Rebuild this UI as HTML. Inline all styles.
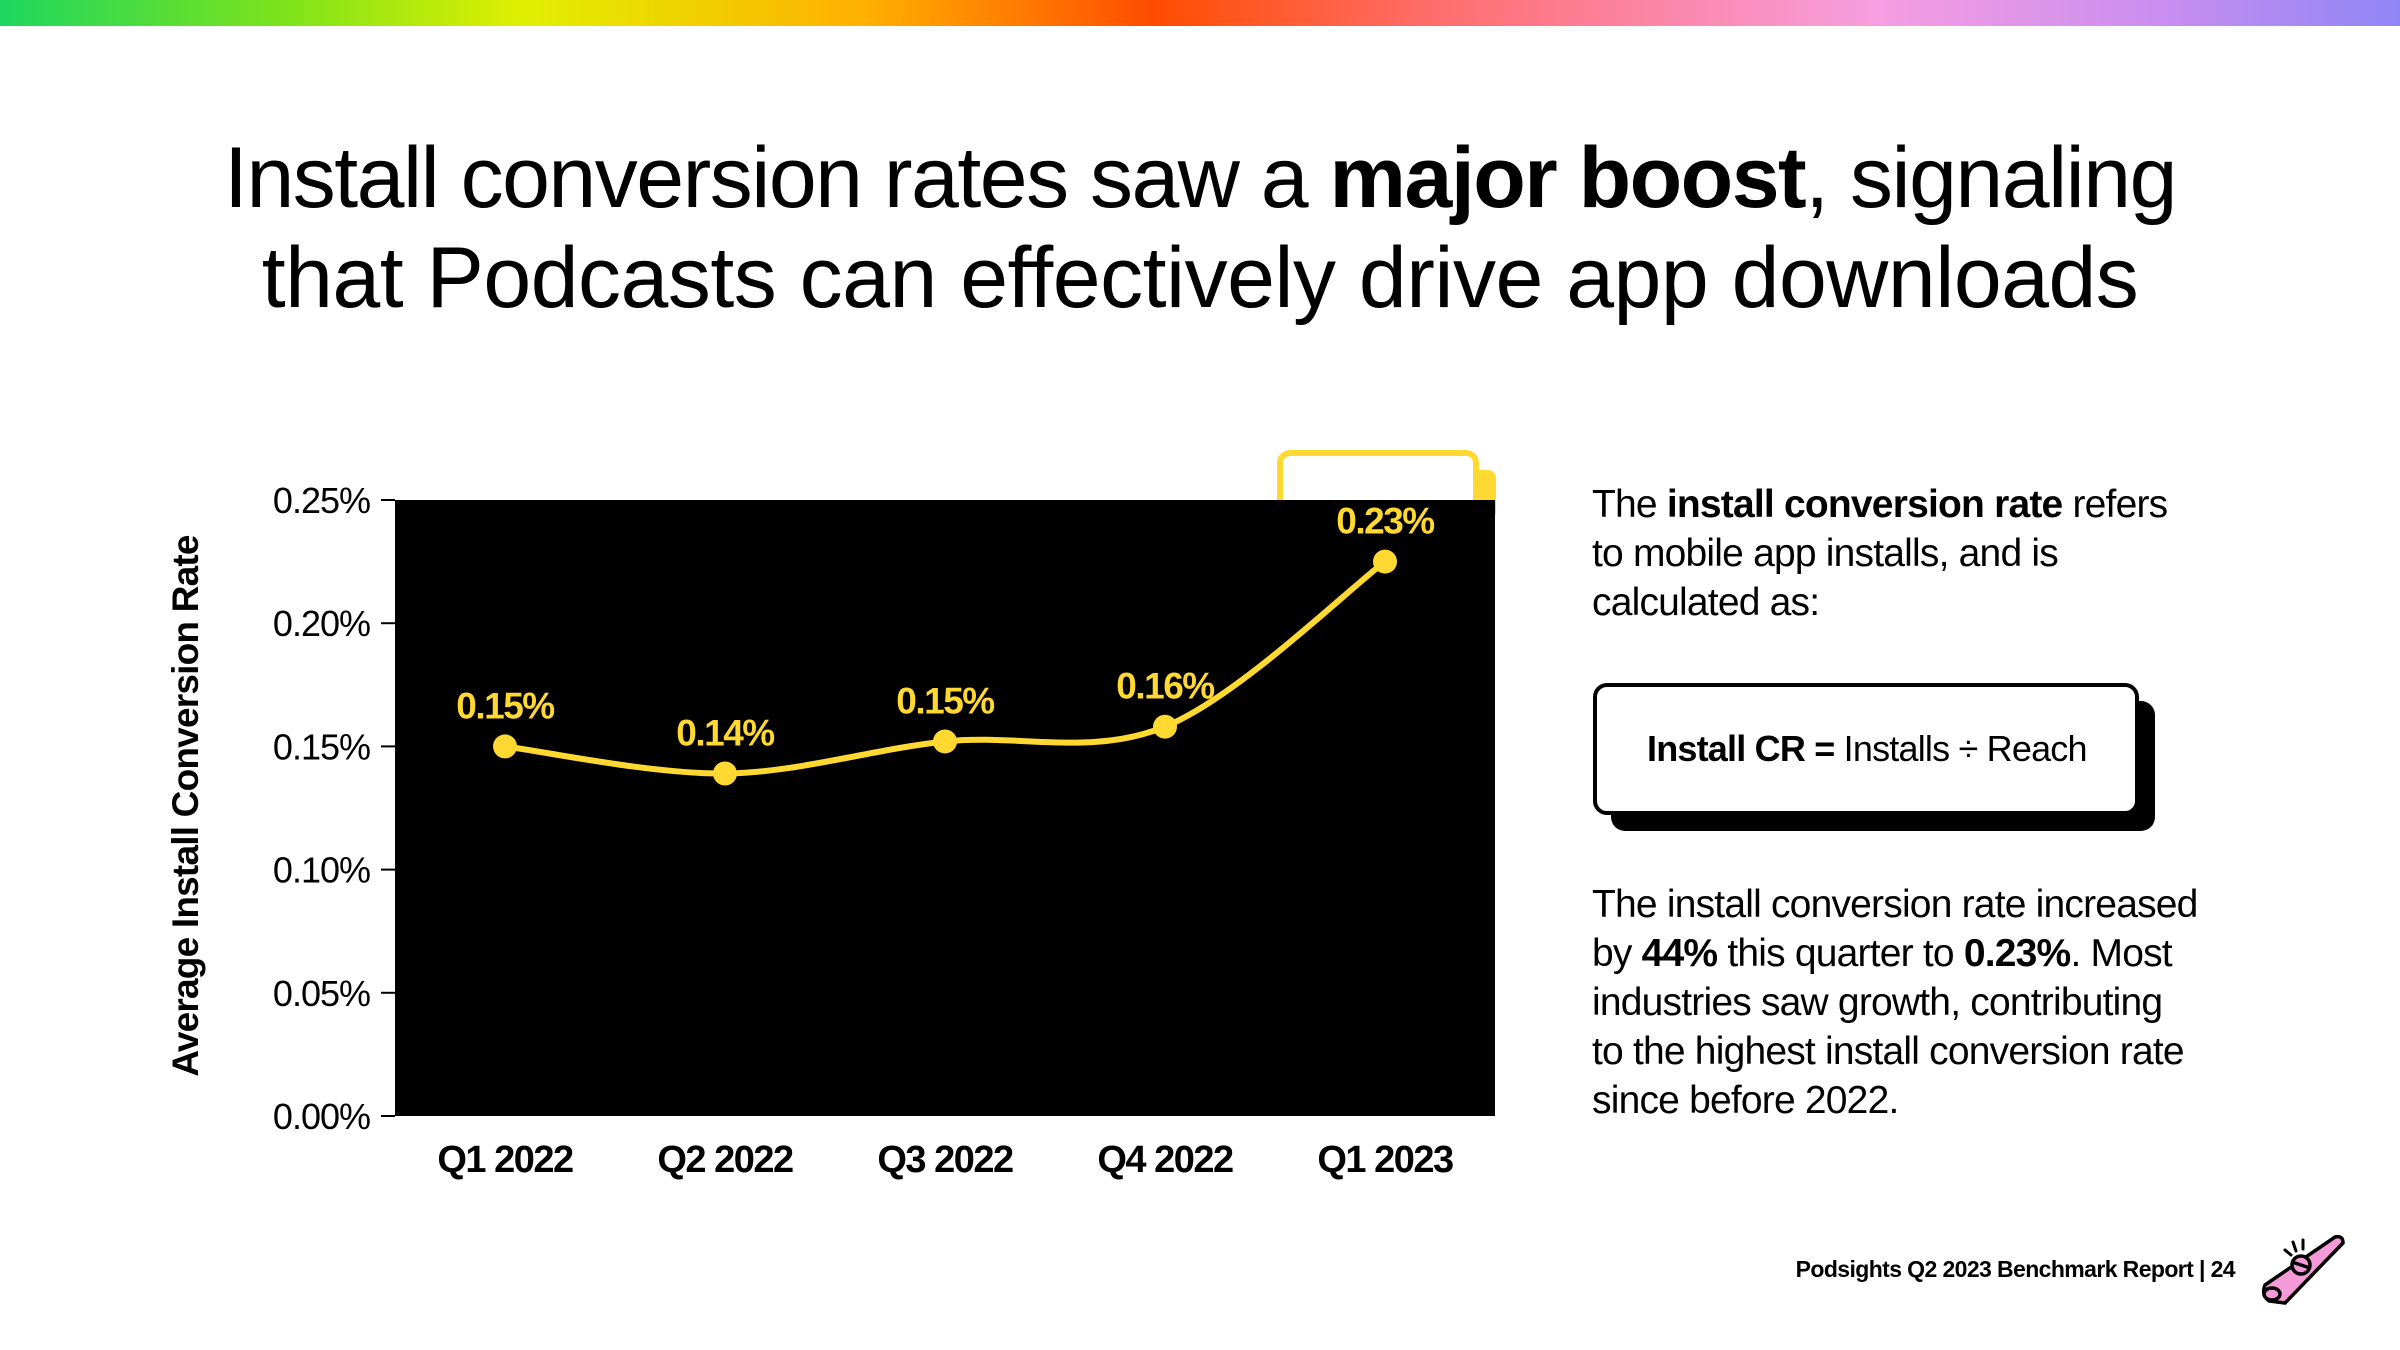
<!DOCTYPE html>
<html><head><meta charset="utf-8">
<style>
html,body{margin:0;padding:0;}
body{width:2400px;height:1350px;position:relative;background:#fff;overflow:hidden;font-family:"Liberation Sans","DejaVu Sans",sans-serif;color:#000;}
.bar{position:absolute;left:0;top:0;width:2400px;height:26px;background:linear-gradient(90deg,#1ed760 0%,#7fe31a 12%,#e2ef00 22%,#ffb000 36%,#ff4d00 48%,#ff6e6e 60%,#f79ee0 78%,#c98ef0 90%,#8f86f5 100%);}
.title{position:absolute;left:0;width:2400px;text-align:center;font-size:86px;letter-spacing:-1.5px;line-height:100px;top:128px;}
.side{position:absolute;left:1592px;font-size:39px;line-height:49px;letter-spacing:-0.8px;white-space:nowrap;}
</style></head><body>
<div class="bar"></div>
<div class="title">Install conversion rates saw a <b>major boost</b>, signaling<br><span style="letter-spacing:-0.5px">that Podcasts can effectively drive app downloads</span></div>

<svg id="chart" width="2400" height="1350" style="position:absolute;left:0;top:0"></svg>

<div class="side" style="top:480px">The <b>install conversion rate</b> refers<br>to mobile app installs, and is<br>calculated as:</div>
<div style="position:absolute;left:1611px;top:701px;width:544px;height:130px;background:#000;border-radius:14px"></div>
<div style="position:absolute;left:1593px;top:683px;width:538px;height:124px;background:#fff;border:4px solid #000;border-radius:14px;"></div>
<div style="position:absolute;left:1647px;top:728px;font-size:36px;letter-spacing:-0.8px"><b>Install CR = </b> Installs ÷ Reach</div>
<div class="side" style="top:880px">The install conversion rate increased<br>by <b>44%</b> this quarter to <b>0.23%</b>. Most<br>industries saw growth, contributing<br>to the highest install conversion rate<br>since before 2022.</div>

<div style="position:absolute;right:165px;top:1256px;font-size:23px;font-weight:bold;letter-spacing:-0.6px">Podsights Q2 2023 Benchmark Report | 24</div>
<svg style="position:absolute;left:2255px;top:1225px" width="100" height="90" viewBox="0 0 100 90">
<g stroke="#000" stroke-width="3.5" stroke-linecap="round" fill="#f59ad8">
<path d="M10 60 L80 12 Q88 10 88 18 L30 78 L14 76 Q6 70 10 60 Z"/>
<ellipse cx="17" cy="69" rx="8" ry="6"/>
<circle cx="46" cy="40" r="9"/>
<line x1="40" y1="38" x2="52" y2="42"/>
</g>
<g stroke="#000" stroke-width="3" stroke-linecap="round"><line x1="30" y1="25" x2="36" y2="30"/><line x1="38" y1="17" x2="41" y2="26"/><line x1="48" y1="15" x2="48" y2="24"/></g>
</svg>

<script>
const categories=["Q1 2022","Q2 2022","Q3 2022","Q4 2022","Q1 2023"];
const values=[0.150,0.139,0.152,0.158,0.225];
const valueLabels=["0.15%","0.14%","0.15%","0.16%","0.23%"];
const yTicks=[0,0.05,0.10,0.15,0.20,0.25];
const yTickLabels=["0.00%","0.05%","0.10%","0.15%","0.20%","0.25%"];

const NS="http://www.w3.org/2000/svg";
const svg=document.getElementById('chart');
const L=395,R=1495,T=500,B=1116;
const x=i=>L+(i+0.5)*(R-L)/categories.length;
const y=v=>B-(v/0.25)*(B-T);
function mk(tag,attrs,parent){const e=document.createElementNS(NS,tag);for(const k in attrs)e.setAttribute(k,attrs[k]);(parent||svg).appendChild(e);return e;}

let tag=mk('rect',{x:1320,y:470,width:176,height:50,rx:8,fill:'#ffd932'});


let tag2=mk('rect',{x:1280,y:453,width:196,height:60,rx:10,fill:'#fff',stroke:'#ffd932','stroke-width':6});



let plot=mk('rect',{x:L,y:T,width:R-L,height:B-T,fill:'#000'});



yTicks.forEach((t,i)=>{
  let tk=mk('line',{x1:L-14,x2:L,y1:y(t),y2:y(t),stroke:'#000','stroke-width':2});
  
  
  let lb=mk('text',{x:370,y:y(t)+13,'text-anchor':'end','font-size':36,'letter-spacing':'-1'});
  lb.textContent=yTickLabels[i];
  
  
});
categories.forEach((c,i)=>{
  let lb=mk('text',{x:x(i),y:1172,'text-anchor':'middle','font-size':38,'font-weight':'bold','letter-spacing':'-1.5'});
  lb.textContent=c;
  
  
});
let yt=mk('text',{x:0,y:0,transform:'translate(198,806) rotate(-90)','text-anchor':'middle','font-size':37,'font-weight':'bold','letter-spacing':'-0.8'});
yt.textContent='Average Install Conversion Rate';



const pts=values.map((v,i)=>[x(i),y(v)]);
let d=`M${pts[0][0]},${pts[0][1]}`;
for(let i=0;i<pts.length-1;i++){
  const p0=pts[i-1]||pts[i],p1=pts[i],p2=pts[i+1],p3=pts[i+2]||p2;
  const c1=[p1[0]+(p2[0]-p0[0])/6,p1[1]+(p2[1]-p0[1])/6];
  const c2=[p2[0]-(p3[0]-p1[0])/6,p2[1]-(p3[1]-p1[1])/6];
  d+=` C${c1[0]},${c1[1]} ${c2[0]},${c2[1]} ${p2[0]},${p2[1]}`;
}
let line=mk('path',{d:d,fill:'none',stroke:'#ffd932','stroke-width':6});


pts.forEach((p,i)=>{
  let c=mk('circle',{cx:p[0],cy:p[1],r:12,fill:'#ffd932'});
  
  
  let t=mk('text',{x:p[0],y:p[1]-28,'text-anchor':'middle','font-size':37,'font-weight':'bold',fill:'#ffd932','letter-spacing':'-1.5'});
  t.textContent=valueLabels[i];
  
  
});
</script>
</body></html>
